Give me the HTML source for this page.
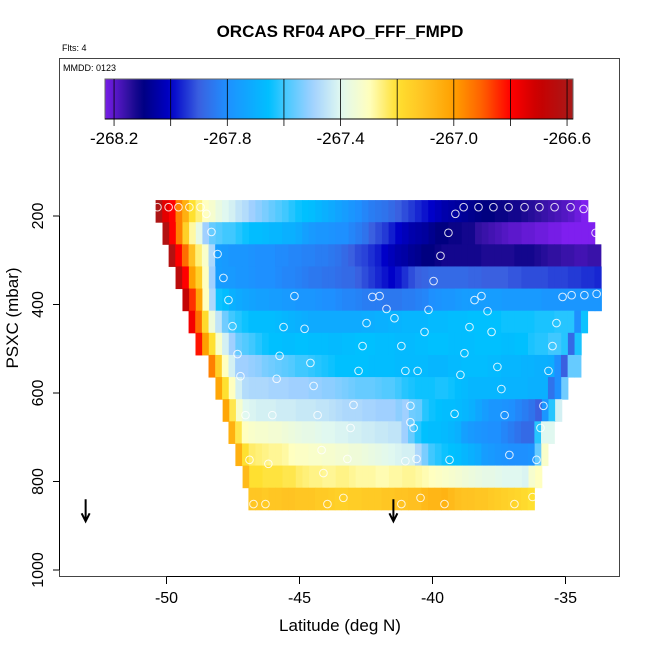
<!DOCTYPE html>
<html><head><meta charset="utf-8"><style>
body{margin:0;background:#fff;}
svg{display:block;font-family:"Liberation Sans",Arial,sans-serif;}
</style></head><body>
<svg id="chart" width="650" height="650" viewBox="0 0 650 650" xmlns="http://www.w3.org/2000/svg">
<rect x="0" y="0" width="650" height="650" fill="#fff"/>
<text x="340" y="37" text-anchor="middle" font-size="17" font-weight="bold">ORCAS RF04 APO_FFF_FMPD</text>
<text x="62" y="51" font-size="9">Flts: 4</text>
<g id="cells"></g>
<g id="points"></g>
<g id="arrows"></g>
<rect x="59.5" y="58.5" width="560" height="518" fill="none" stroke="#444" stroke-width="1"/>
<text x="63" y="71" font-size="9">MMDD: 0123</text>
<g id="cbar"></g>
<g id="xaxis"></g>
<g id="yaxis"></g>
<text x="340" y="631" text-anchor="middle" font-size="17">Latitude (deg N)</text>
<text x="0" y="0" transform="translate(18,318) rotate(-90)" text-anchor="middle" font-size="17">PSXC (mbar)</text>
</svg>
<script>
const rowStartLat=[-50.41,-50.15,-49.92,-49.66,-49.40,-49.17,-48.91,-48.42,-48.16,-47.89,-47.67,-47.41,-47.14,-46.92];
const rowTopPres=[164,214,264,314,364,414,464,514,564,614,664,714,764,814];
const rowValues=[
[-266.6,-266.75,-266.8,-266.95,-267.05,-267.2,-267.25,-267.3,-267.33,-267.37,-267.4,-267.42,-267.45,-267.47,-267.5,-267.52,-267.54,-267.56,-267.58,-267.6,-267.62,-267.64,-267.65,-267.66,-267.68,-267.7,-267.72,-267.74,-267.76,-267.78,-267.8,-267.82,-267.84,-267.85,-267.86,-267.88,-267.9,-267.92,-267.94,-267.96,-267.98,-268.0,-268.02,-268.04,-268.05,-268.06,-268.07,-268.08,-268.09,-268.1,-268.1,-268.11,-268.11,-268.12,-268.12,-268.13,-268.14,-268.15,-268.16,-268.17,-268.18,-268.19,-268.2,-268.22,-268.24],
[-266.62,-266.8,-266.95,-267.15,-267.28,-267.38,-267.5,-267.56,-267.58,-267.6,-267.6,-267.62,-267.64,-267.66,-267.66,-267.67,-267.68,-267.68,-267.7,-267.7,-267.72,-267.75,-267.77,-267.78,-267.78,-267.79,-267.8,-267.8,-267.82,-267.84,-267.86,-267.9,-267.92,-267.94,-267.97,-268.0,-268.02,-268.04,-268.05,-268.06,-268.08,-268.1,-268.1,-268.11,-268.11,-268.12,-268.12,-268.15,-268.16,-268.17,-268.18,-268.19,-268.2,-268.2,-268.21,-268.21,-268.22,-268.22,-268.23,-268.23,-268.24,-268.24,-268.24,-268.24,-268.24],
[-266.62,-266.8,-266.92,-267.1,-267.25,-267.32,-267.48,-267.76,-267.77,-267.78,-267.78,-267.78,-267.79,-267.8,-267.8,-267.8,-267.81,-267.81,-267.82,-267.82,-267.83,-267.83,-267.84,-267.84,-267.85,-267.86,-267.88,-267.9,-267.92,-267.93,-267.95,-267.97,-268.0,-268.02,-268.04,-268.05,-268.07,-268.08,-268.1,-268.1,-268.11,-268.12,-268.12,-268.12,-268.12,-268.12,-268.12,-268.13,-268.13,-268.13,-268.13,-268.13,-268.12,-268.12,-268.12,-268.13,-268.14,-268.15,-268.15,-268.16,-268.16,-268.17,-268.17,-268.16,-268.16],
[-266.65,-266.8,-267.0,-267.15,-267.3,-267.5,-267.76,-267.77,-267.77,-267.78,-267.78,-267.79,-267.8,-267.8,-267.8,-267.81,-267.82,-267.82,-267.83,-267.84,-267.85,-267.85,-267.86,-267.86,-267.87,-267.88,-267.88,-267.9,-267.92,-267.94,-267.96,-267.98,-268.0,-267.98,-267.95,-267.92,-267.9,-267.89,-267.88,-267.88,-267.88,-267.88,-267.88,-267.88,-267.89,-267.89,-267.9,-267.9,-267.9,-267.9,-267.91,-267.91,-267.92,-267.92,-267.92,-267.92,-267.93,-267.93,-267.93,-267.94,-267.94,-267.95,-267.95,-267.96],
[-266.68,-266.85,-267.02,-267.3,-267.48,-267.64,-267.66,-267.7,-267.72,-267.73,-267.74,-267.75,-267.75,-267.76,-267.76,-267.77,-267.77,-267.78,-267.78,-267.78,-267.79,-267.8,-267.8,-267.81,-267.82,-267.82,-267.83,-267.84,-267.84,-267.84,-267.85,-267.85,-267.85,-267.84,-267.84,-267.83,-267.82,-267.8,-267.79,-267.78,-267.78,-267.77,-267.76,-267.76,-267.76,-267.76,-267.76,-267.76,-267.77,-267.77,-267.77,-267.77,-267.77,-267.77,-267.78,-267.78,-267.78,-267.78,-267.78,-267.78,-267.78,-267.78,-267.78],
[-266.78,-266.92,-267.18,-267.35,-267.45,-267.55,-267.6,-267.62,-267.64,-267.66,-267.66,-267.66,-267.66,-267.67,-267.68,-267.69,-267.7,-267.71,-267.72,-267.72,-267.72,-267.72,-267.72,-267.72,-267.72,-267.72,-267.71,-267.71,-267.7,-267.7,-267.69,-267.69,-267.68,-267.68,-267.68,-267.68,-267.67,-267.67,-267.67,-267.66,-267.66,-267.66,-267.65,-267.65,-267.65,-267.65,-267.65,-267.64,-267.64,-267.64,-267.64,-267.64,-267.63,-267.63,-267.63,-267.62,-267.62,-267.62,-267.8,-267.64],
[-266.82,-267.0,-267.2,-267.32,-267.42,-267.5,-267.56,-267.58,-267.6,-267.62,-267.64,-267.65,-267.65,-267.66,-267.66,-267.65,-267.65,-267.66,-267.66,-267.66,-267.67,-267.67,-267.66,-267.66,-267.65,-267.65,-267.65,-267.66,-267.66,-267.66,-267.67,-267.67,-267.67,-267.66,-267.66,-267.65,-267.65,-267.65,-267.66,-267.66,-267.66,-267.66,-267.65,-267.65,-267.65,-267.65,-267.66,-267.66,-267.65,-267.65,-267.63,-267.62,-267.62,-267.6,-267.6,-267.62,-267.88,-267.63],
[-266.95,-267.15,-267.3,-267.42,-267.5,-267.5,-267.51,-267.52,-267.54,-267.55,-267.56,-267.57,-267.58,-267.6,-267.6,-267.61,-267.62,-267.63,-267.64,-267.65,-267.65,-267.65,-267.65,-267.65,-267.66,-267.66,-267.66,-267.66,-267.67,-267.67,-267.67,-267.67,-267.67,-267.68,-267.68,-267.68,-267.67,-267.67,-267.66,-267.66,-267.66,-267.66,-267.67,-267.67,-267.68,-267.68,-267.68,-267.69,-267.69,-267.7,-267.7,-267.71,-267.8,-267.9,-267.56,-267.56],
[-267.02,-267.2,-267.3,-267.42,-267.47,-267.48,-267.48,-267.48,-267.49,-267.49,-267.49,-267.5,-267.5,-267.5,-267.51,-267.51,-267.52,-267.52,-267.53,-267.54,-267.55,-267.56,-267.56,-267.56,-267.57,-267.58,-267.58,-267.6,-267.62,-267.63,-267.64,-267.64,-267.64,-267.63,-267.63,-267.64,-267.66,-267.67,-267.68,-267.68,-267.68,-267.68,-267.68,-267.69,-267.69,-267.69,-267.69,-267.7,-267.7,-267.7,-267.86,-267.8,-267.55],
[-267.02,-267.22,-267.33,-267.4,-267.41,-267.42,-267.42,-267.42,-267.43,-267.43,-267.43,-267.44,-267.44,-267.44,-267.45,-267.45,-267.46,-267.47,-267.48,-267.48,-267.48,-267.49,-267.49,-267.5,-267.5,-267.5,-267.52,-267.5,-267.55,-267.56,-267.62,-267.64,-267.65,-267.66,-267.66,-267.67,-267.68,-267.7,-267.73,-267.76,-267.78,-267.78,-267.79,-267.8,-267.82,-267.84,-267.86,-267.9,-267.78,-267.62,-267.42],
[-267.05,-267.22,-267.3,-267.32,-267.33,-267.33,-267.34,-267.34,-267.35,-267.36,-267.37,-267.38,-267.38,-267.39,-267.4,-267.4,-267.41,-267.41,-267.42,-267.42,-267.43,-267.43,-267.44,-267.44,-267.45,-267.45,-267.5,-267.56,-267.62,-267.65,-267.66,-267.66,-267.67,-267.68,-267.7,-267.75,-267.77,-267.78,-267.79,-267.8,-267.8,-267.82,-267.84,-267.86,-267.88,-267.88,-267.62,-267.4,-267.4],
[-267.05,-267.2,-267.24,-267.25,-267.26,-267.27,-267.27,-267.28,-267.3,-267.31,-267.31,-267.32,-267.32,-267.33,-267.33,-267.34,-267.34,-267.35,-267.35,-267.36,-267.37,-267.38,-267.39,-267.4,-267.41,-267.42,-267.42,-267.48,-267.54,-267.6,-267.62,-267.64,-267.65,-267.66,-267.68,-267.7,-267.72,-267.76,-267.77,-267.78,-267.79,-267.8,-267.8,-267.8,-267.79,-267.56,-267.32],
[-267.08,-267.2,-267.2,-267.21,-267.21,-267.21,-267.22,-267.22,-267.24,-267.25,-267.26,-267.26,-267.27,-267.27,-267.26,-267.26,-267.27,-267.28,-267.28,-267.28,-267.29,-267.29,-267.28,-267.28,-267.27,-267.27,-267.28,-267.29,-267.3,-267.31,-267.32,-267.33,-267.34,-267.35,-267.36,-267.37,-267.38,-267.38,-267.39,-267.4,-267.4,-267.4,-267.41,-267.33,-267.3],
[-267.12,-267.12,-267.13,-267.12,-267.12,-267.11,-267.11,-267.12,-267.12,-267.12,-267.13,-267.13,-267.14,-267.15,-267.15,-267.14,-267.14,-267.13,-267.13,-267.13,-267.12,-267.12,-267.11,-267.11,-267.1,-267.1,-267.08,-267.07,-267.07,-267.06,-267.08,-267.1,-267.11,-267.11,-267.12,-267.12,-267.13,-267.14,-267.15,-267.16,-267.17,-267.18,-267.2]
];
const pointLat=[-50.34,-49.92,-49.55,-49.14,-48.72,-48.50,-39.14,-38.83,-38.27,-37.71,-37.14,-36.54,-35.98,-35.41,-34.81,-34.32,-48.31,-39.40,-33.87,-48.08,-39.70,-47.86,-39.96,-47.67,-45.19,-42.26,-41.99,-38.42,-38.16,-35.11,-34.77,-34.29,-33.83,-41.73,-40.15,-37.93,-41.43,-47.52,-45.60,-44.81,-42.48,-38.61,-35.34,-40.30,-37.78,-42.63,-41.17,-35.49,-47.33,-45.75,-38.80,-44.59,-37.56,-47.22,-42.78,-41.02,-40.56,-38.95,-35.64,-45.86,-44.47,-37.41,-42.97,-40.83,-35.83,-47.03,-46.02,-44.32,-39.17,-37.29,-40.83,-43.08,-40.71,-35.94,-44.17,-46.88,-46.17,-43.20,-41.02,-40.60,-39.36,-37.11,-36.09,-44.10,-43.35,-40.45,-36.24,-46.73,-46.28,-43.95,-41.17,-39.55,-36.92];
const pointPres=[180,180,180,180,180,195,195,180,180,180,180,180,180,180,180,184,236,238,238,286,290,340,347,390,381,383,381,390,381,383,379,379,376,410,412,415,431,449,451,455,442,451,442,462,462,494,494,494,512,516,510,532,541,562,550,550,550,559,550,568,584,591,627,629,629,650,650,650,647,650,666,679,679,679,729,751,760,749,754,749,751,740,751,781,837,837,835,851,851,851,851,851,851];
const arrowLat=[-53.04,-41.47];
const arrowTopPres=[840,840];
const arrowBotPres=[890,890];
const cbarTicks=[-268.2,-268.0,-267.8,-267.6,-267.4,-267.2,-267.0,-266.8,-266.6];
const cbarLabels=["-268.2","-267.8","-267.4","-267.0","-266.6"];
const xTicks=[-50,-45,-40,-35];
const yTicks=[200,400,600,800,1000];

const NS='http://www.w3.org/2000/svg';
const X=lat=>166.5+(lat+50)*26.6;
const Y=p=>216+(p-200)*0.4425;
const CELL=0.25, ROWH=50;
const stops=[[-268.24,[127,31,239]],[-268.15,[48,16,160]],[-268.1,[0,0,128]],[-268.0,[0,0,200]],[-267.9,[58,96,224]],[-267.8,[30,144,255]],[-267.65,[0,192,255]],[-267.6,[64,200,255]],[-267.5,[160,208,255]],[-267.4,[224,248,240]],[-267.3,[255,255,192]],[-267.2,[255,224,48]],[-267.1,[255,192,32]],[-267.0,[255,160,0]],[-266.9,[255,96,0]],[-266.8,[255,0,0]],[-266.7,[200,0,0]],[-266.55,[160,32,32]]];
function col(v){
  if(v<=stops[0][0])return 'rgb('+stops[0][1]+')';
  for(let i=1;i<stops.length;i++){
    if(v<=stops[i][0]){const a=stops[i-1],b=stops[i];const t=(v-a[0])/(b[0]-a[0]);
      return 'rgb('+a[1].map((c,k)=>Math.round(c+(b[1][k]-c)*t)).join(',')+')';}
  }
  return 'rgb('+stops[stops.length-1][1]+')';
}
function mk(tag,attrs,parent){const e=document.createElementNS(NS,tag);for(const k in attrs)e.setAttribute(k,attrs[k]);parent.appendChild(e);return e;}

const gc=document.getElementById('cells');
rowValues.forEach((row,r)=>{
  row.forEach((v,c)=>{
    const x0=X(rowStartLat[r]+c*CELL),x1=X(rowStartLat[r]+(c+1)*CELL);
    const y0=Y(rowTopPres[r]),y1=Y(rowTopPres[r]+ROWH);
    const e=mk('rect',{x:x0,y:y0,width:x1-x0+0.5,height:y1-y0+0.5,fill:col(v)},gc);
    
    
  });
});
const gp=document.getElementById('points');
pointLat.forEach((lat,i)=>{
  const e=mk('circle',{cx:X(lat),cy:Y(pointPres[i]),r:3.8,fill:'none',stroke:'#fff','stroke-opacity':0.85,'stroke-width':1},gp);
  
  
});
const ga=document.getElementById('arrows');
arrowLat.forEach((lat,i)=>{
  const x=X(lat),y0=Y(arrowTopPres[i]),y1=Y(arrowBotPres[i]);
  const e=mk('path',{d:`M${x},${y0}L${x},${y1}M${x-4},${y1-8}L${x},${y1}L${x+4},${y1-8}`,stroke:'#000','stroke-width':2,fill:'none'},ga);
  
  
});
// colorbar
const gb=document.getElementById('cbar');
const CB0=105,CB1=573,CBY=79,CBH=40,V0=-268.232,V1=-266.579;
const CX=v=>CB0+(v-V0)/(V1-V0)*(CB1-CB0);
const defs=mk('defs',{},gb);
const grad=mk('linearGradient',{id:'cg',x1:0,x2:1,y1:0,y2:0},defs);
for(let i=0;i<=60;i++){const v=V0+(V1-V0)*i/60;mk('stop',{offset:i/60,'stop-color':col(v)},grad);}
const cr=mk('rect',{x:CB0,y:CBY,width:CB1-CB0,height:CBH,fill:'url(#cg)',stroke:'#666','stroke-width':1},gb);


cbarTicks.forEach(v=>{
  const x=CX(v);
  const e=mk('line',{x1:x,x2:x,y1:CBY,y2:CBY+CBH+7,stroke:'#000','stroke-width':0.8},gb);
  
  
});
mk('line',{x1:CB0,x2:CB1,y1:CBY+CBH,y2:CBY+CBH,stroke:'#000','stroke-width':1},gb);
cbarLabels.forEach(s=>{
  const t=mk('text',{x:CX(parseFloat(s)),y:144,'text-anchor':'middle','font-size':17},gb);
  t.textContent=s;
  
  
});
// axes
const gx=document.getElementById('xaxis');
mk('line',{x1:X(-50),x2:X(-35),y1:576.5,y2:576.5,stroke:'#000'},gx);
xTicks.forEach(v=>{
  const x=X(v);
  const l=mk('line',{x1:x,x2:x,y1:577,y2:584,stroke:'#000'},gx);
  
  
  const t=mk('text',{x:x,y:603,'text-anchor':'middle','font-size':16},gx);
  t.textContent=String(v);
  
  
});
const gy=document.getElementById('yaxis');
mk('line',{x1:59.5,x2:59.5,y1:Y(200),y2:Y(1000),stroke:'#000'},gy);
yTicks.forEach(v=>{
  const y=Y(v);
  const l=mk('line',{x1:53,x2:59,y1:y,y2:y,stroke:'#000'},gy);
  
  
  const t=mk('text',{transform:`translate(43,${y}) rotate(-90)`,'text-anchor':'middle','font-size':16},gy);
  t.textContent=String(v);
  
  
});
</script>
</body></html>
